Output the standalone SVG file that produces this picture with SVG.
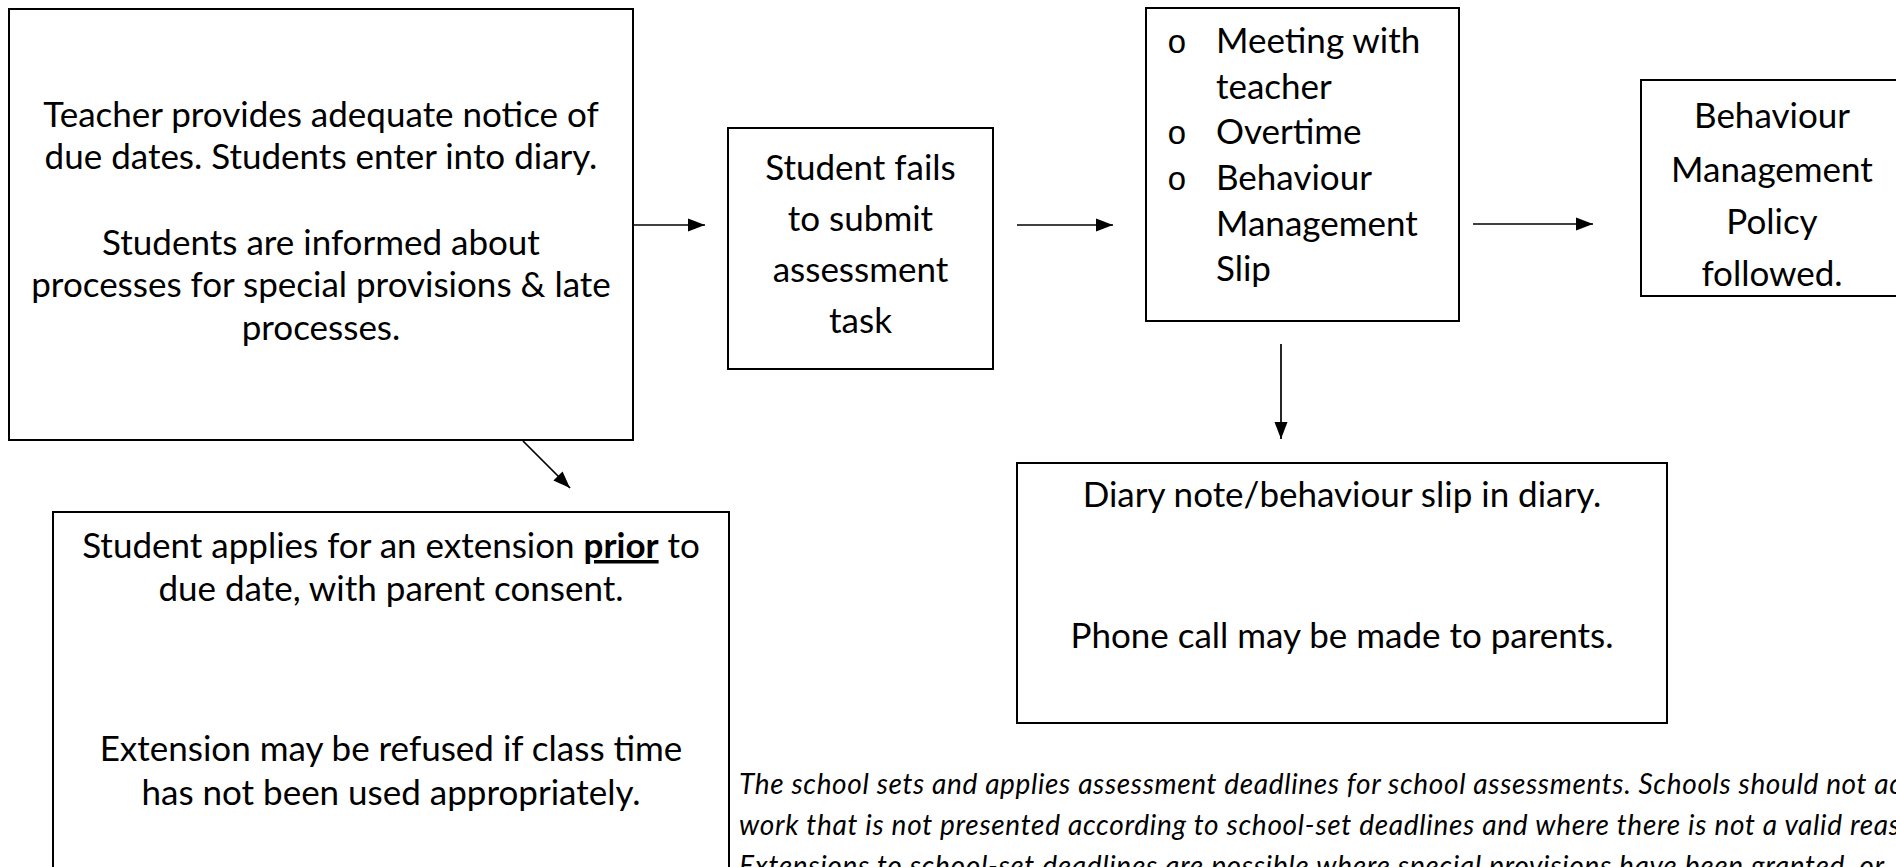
<svg xmlns="http://www.w3.org/2000/svg" width="1896" height="867" viewBox="0 0 1896 867">
<defs>
<marker id="ah" markerUnits="userSpaceOnUse" markerWidth="18" markerHeight="14" refX="17" refY="7" orient="auto" viewBox="0 0 18 14"><path d="M0,0.5 L17,7 L0,13.5 Z" fill="#000"/></marker>
</defs>
<style>
.box{fill:#fff;stroke:#000;stroke-width:2}
.t{font-family:Lato,"Open Sans","Liberation Sans",sans-serif;font-size:35px;fill:#000;text-anchor:middle}
.tl{font-family:Lato,"Open Sans","Liberation Sans",sans-serif;font-size:35px;fill:#000}
.bul{font-family:"Liberation Mono","DejaVu Sans Mono",monospace;font-size:33px;fill:#000}
.it{font-family:Lato,"Open Sans","Liberation Sans",sans-serif;font-size:28px;font-style:italic;fill:#000}
.conn{stroke:#000;stroke-width:1.7;fill:none;marker-end:url(#ah)}
</style>
<rect width="1896" height="867" fill="#fff"/>
<g id="connectors">
<path class="conn" d="M633,225 H705"/>
<path class="conn" d="M1017,225 H1113"/>
<path class="conn" d="M1473,224 H1593"/>
<path class="conn" d="M1281,344 V439"/>
<path class="conn" d="M523,441 L570,488"/>
</g>
<g id="n1">
<rect class="box" x="9" y="9" width="624" height="431"/>
<text class="t" x="321" y="127">Teacher provides adequate notice of</text>
<text class="t" x="321" y="169">due dates. Students enter into diary.</text>
<text class="t" x="321" y="255">Students are informed about</text>
<text class="t" x="321" y="297">processes for special provisions &amp; late</text>
<text class="t" x="321" y="340">processes.</text>
</g>
<g id="n2">
<rect class="box" x="728" y="128" width="265" height="241"/>
<text class="t" x="860.5" y="180">Student fails</text>
<text class="t" x="860.5" y="231">to submit</text>
<text class="t" x="860.5" y="282">assessment</text>
<text class="t" x="860.5" y="333">task</text>
</g>
<g id="n3">
<rect class="box" x="1146" y="8" width="313" height="313"/>
<text class="bul" x="1167" y="53">o</text>
<text class="tl" x="1216" y="53">Meeting with</text>
<text class="tl" x="1216" y="99">teacher</text>
<text class="bul" x="1167" y="144">o</text>
<text class="tl" x="1216" y="144">Overtime</text>
<text class="bul" x="1167" y="190">o</text>
<text class="tl" x="1216" y="190">Behaviour</text>
<text class="tl" x="1216" y="236">Management</text>
<text class="tl" x="1216" y="281">Slip</text>
</g>
<g id="n4">
<rect class="box" x="1641" y="80" width="280" height="216"/>
<text class="t" x="1772" y="128">Behaviour</text>
<text class="t" x="1772" y="182">Management</text>
<text class="t" x="1772" y="234">Policy</text>
<text class="t" x="1772" y="286">followed.</text>
</g>
<g id="n5">
<rect class="box" x="1017" y="463" width="650" height="260"/>
<text class="t" x="1342" y="507">Diary note/behaviour slip in diary.</text>
<text class="t" x="1342" y="648">Phone call may be made to parents.</text>
</g>
<g id="n6">
<rect class="box" x="53" y="512" width="676" height="400"/>
<text class="t" x="391" y="558">Student applies for an extension <tspan font-weight="bold" text-decoration="underline">prior</tspan> to</text>
<text class="t" x="391" y="601">due date, with parent consent.</text>
<text class="t" x="391" y="761">Extension may be refused if class time</text>
<text class="t" x="391" y="805">has not been used appropriately.</text>
</g>
<g id="note">
<text class="it" x="739" y="794" textLength="1163" lengthAdjust="spacing">The school sets and applies assessment deadlines for school assessments. Schools should not ac</text>
<text class="it" x="739" y="835" textLength="1161" lengthAdjust="spacing">work that is not presented according to school-set deadlines and where there is not a valid reas</text>
<text class="it" x="739" y="876" textLength="1145" lengthAdjust="spacing">Extensions to school-set deadlines are possible where special provisions have been granted, or</text>
</g>
</svg>
